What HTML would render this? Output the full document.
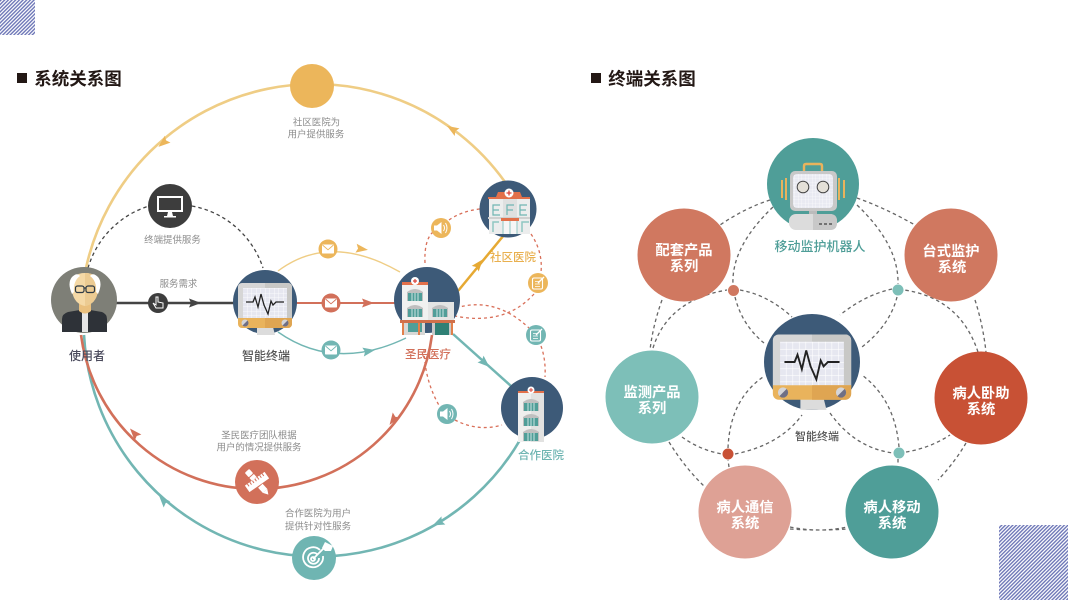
<!DOCTYPE html>
<html lang="zh"><head><meta charset="utf-8"><title>关系图</title>
<style>
html,body{margin:0;padding:0;background:#fff;width:1068px;height:600px;overflow:hidden}
svg{display:block}
text{font-family:"Liberation Sans","Noto Sans CJK SC",sans-serif;text-anchor:middle}
.s{font-size:9.450px;fill:#8c8c8c}
.n{font-size:14.300px;fill:#fff;font-weight:700}
.d{fill:none;stroke:#666;stroke-width:1.300;stroke-dasharray:3.500 3}
.r{fill:none;stroke:#d9705a;stroke-width:1.300;stroke-dasharray:3 3}
</style></head><body>
<svg width="1068" height="600" viewBox="0 0 1068 600" xmlns="http://www.w3.org/2000/svg">
<defs>
<pattern id="st" width="2.600" height="5" patternUnits="userSpaceOnUse" patternTransform="rotate(45)">
<rect width="2.600" height="5" fill="#fff"/><rect width="1.400" height="5" fill="#6f78b8"/>
</pattern>
<pattern id="gr" width="4.500" height="4.500" patternUnits="userSpaceOnUse">
<rect width="4.500" height="4.500" fill="#e6e7f0"/><path d="M0 0H4.500M0 0V4.500" stroke="#fff" stroke-width=".8"/>
</pattern>
<pattern id="gr2" width="3.500" height="3.500" patternUnits="userSpaceOnUse">
<rect width="3.500" height="3.500" fill="#e9eaf2"/><path d="M0 0H3.500M0 0V3.500" stroke="#fff" stroke-width=".6"/>
</pattern>
<path id="ah" d="M-6 -4.500L6 0 -6 4.500 -4 0Z"/>
<g id="mon">
<path d="M-8 25H8L10 33H-8Z" fill="#dcdcdc"/>
<path d="M-27 -15a4 4 0 0 1 4-4H23a4 4 0 0 1 4 4V17H-27Z" fill="#d6d6d6"/>
<path d="M0 -19H23a4 4 0 0 1 4 4V17H0Z" fill="#c8c8c6"/>
<rect x="-22" y="-14" width="44" height="31" fill="url(#gr)"/>
<path d="M-27 16H27V22a4 4 0 0 1-4 4H-23a4 4 0 0 1-4-4Z" fill="#e9b35c"/>
<path d="M0 16H27V22a4 4 0 0 1-4 4H0Z" fill="#dfa552"/>
<circle cx="-20" cy="21" r="3.500" fill="#d5d5d8"/><circle cx="20" cy="21" r="3.500" fill="#d5d5d8"/>
<path d="M-22.500 23.500A3.500 3.500 0 0 0 -17.500 18.500Z" fill="#6f6f85"/>
<path d="M17.500 23.500A3.500 3.500 0 0 0 22.500 18.500Z" fill="#6f6f85"/>
<path d="M-19 0H-12L-10 -5-7 5-4 -8-1 3 3 12 6 -1 8 3 11 0H19" fill="none" stroke="#222" stroke-width="1.300"/>
</g>
<g id="mail"><rect x="-6" y="-4.500" width="12" height="9" rx=".8" fill="#fff"/><path d="M-5.500 -4L0 .8 5.500 -4" fill="none" stroke="currentColor" stroke-width=".9"/></g>
<g id="spk"><path d="M-6 -2.500H-3L1.500 -6V6L-3 2.500H-6Z" fill="#fff"/><path d="M3.500 -3Q5.500 0 3.500 3M5.500 -5Q8.500 0 5.500 5" fill="none" stroke="#fff" stroke-width="1"/></g>
<g id="note"><rect x="-5.500" y="-5" width="10" height="11" rx="1.500" fill="none" stroke="#fff" stroke-width="1.100"/><path d="M-3 -1.500H1M-3 1H2M-3 3.500H2" stroke="#fff" stroke-width=".8"/><path d="M0 0L6 -6" stroke="#fff" stroke-width="1.300"/></g>
<g id="win"><path d="M-8 -1Q0 -7 8 -1V8H-8Z" fill="#bfbfbf"/><rect x="-7" y="0" width="14" height="8" fill="#4f9e98"/><path d="M-3 0V8M0 0V8M3 0V8" stroke="#eef5f5" stroke-width=".8"/></g>
</defs>

<rect x="0" y="0" width="35" height="35" fill="url(#st)"/>
<rect x="999" y="525" width="69" height="75" fill="url(#st)"/>

<rect x="17" y="73" width="10" height="10" fill="#231815"/>
<text x="78" y="85" style="font-size:17.500px;font-weight:700;fill:#231815">系统关系图</text>
<rect x="591" y="73" width="10" height="10" fill="#231815"/>
<text x="652" y="85" style="font-size:17.500px;font-weight:700;fill:#231815">终端关系图</text>

<!-- big arcs -->
<path d="M86 268A234 234 0 0 1 505 182" fill="none" stroke="#efcd85" stroke-width="2.600"/>
<path d="M84 335A234 234 0 0 0 520 440" fill="none" stroke="#72b6b3" stroke-width="2.600"/>
<path d="M81 335A177 177 0 0 0 432 335" fill="none" stroke="#d2705a" stroke-width="2.600"/>
<use href="#ah" transform="translate(163 143) rotate(140)" fill="#ecb65b"/>
<use href="#ah" transform="translate(452 129) rotate(212)" fill="#ecb65b"/>
<use href="#ah" transform="translate(134 433) rotate(228)" fill="#d2705a"/>
<use href="#ah" transform="translate(393 420) rotate(125)" fill="#d2705a"/>
<use href="#ah" transform="translate(163 500) rotate(228)" fill="#72b6b3"/>
<use href="#ah" transform="translate(438 523) rotate(155)" fill="#72b6b3"/>
<path d="M88 268A92 92 0 0 1 149 206M192 206A92 92 0 0 1 263 268" class="d" style="stroke:#444"/>

<!-- terminal - hospital links -->
<path d="M278 271Q330 232 400 272" fill="none" stroke="#efcd85" stroke-width="1.400"/>
<path d="M278 332Q335 372 406 338" fill="none" stroke="#72b6b3" stroke-width="1.400"/>
<path d="M296 303H396" stroke="#d2705a" stroke-width="2"/>
<use href="#ah" transform="translate(362 249) rotate(8)" fill="#ecb65b"/>
<use href="#ah" transform="translate(368 303)" fill="#d2705a"/>
<use href="#ah" transform="translate(369 351) rotate(-10)" fill="#72b6b3"/>
<path d="M116 303H234" stroke="#444" stroke-width="2.500"/>
<use href="#ah" transform="translate(195 303)" fill="#444"/>
<path d="M458 291L504 235" stroke="#e6a933" stroke-width="2.500"/>
<use href="#ah" transform="translate(479 264) rotate(-51)" fill="#e6a933"/>
<path d="M453 334L511 386" stroke="#72b6b3" stroke-width="2.500"/>
<use href="#ah" transform="translate(485 363) rotate(42)" fill="#72b6b3"/>

<!-- red dashed -->
<path d="M425 263Q424 240 433 232M449 220Q462 211 480 209" class="r"/>
<path d="M531 234Q543 252 541 272" class="r"/>
<path d="M534 294Q505 326 455 316" class="r"/>
<path d="M456 308Q495 296 529 328" class="r"/>
<path d="M541 346Q546 360 545 377" class="r"/>
<path d="M424 350Q425 382 440 407M455 420Q478 432 502 425" class="r"/>

<!-- left nodes -->
<circle cx="312" cy="86" r="22" fill="#ecb65b"/>
<circle cx="170" cy="206" r="22" fill="#3d3d3d"/>
<rect x="157" y="196" width="26" height="16" fill="#fff"/><rect x="159" y="198" width="22" height="12" fill="#3d3d3d"/><path d="M168 212H172L173 216H176V217.500H164V216H167Z" fill="#fff"/>
<circle cx="257" cy="482" r="22" fill="#d2705a"/>
<g transform="translate(257 482) rotate(-35)"><rect x="-12" y="-4" width="24" height="8" fill="#fff"/><path d="M-9 -4V-1M-6 -4V-1M-3 -4V-1M0 -4V-1M3 -4V-1M6 -4V-1M9 -4V-1" stroke="#d2705a"/></g>
<g transform="translate(257 482) rotate(48)"><rect x="-15" y="-3" width="6" height="6" rx="1" fill="#fff"/><rect x="-8" y="-3" width="4" height="6" fill="#fff"/><rect x="5" y="-3" width="7" height="6" fill="#fff"/><path d="M12 -3L17 0 12 3Z" fill="#fff"/></g>
<circle cx="314" cy="558" r="22" fill="#6fb5b2"/>
<g fill="none" stroke="#fff" stroke-width="1.800"><path d="M320 550A10 10 0 1 0 323 556"/><path d="M317 554A5.500 5.500 0 1 0 319 558"/><circle cx="313" cy="559" r="2"/><path d="M313 559L325 547"/></g>
<path d="M322 548L325 542 331 545 333 546 331 551 325 551Z" fill="#fff"/>
<circle cx="158" cy="303" r="10" fill="#3d3d3d"/>
<path d="M156 297H158V302L163 303V308H156L153 303 156 305Z" fill="none" stroke="#fff" stroke-width="1"/>

<!-- small icons -->
<circle cx="328" cy="249" r="9.500" fill="#ecb65b"/><use href="#mail" x="328" y="249" color="#ecb65b"/>
<circle cx="331" cy="303" r="9.500" fill="#d2705a"/><use href="#mail" x="331" y="303" color="#d2705a"/>
<circle cx="331" cy="350" r="9.500" fill="#72b6b3"/><use href="#mail" x="331" y="350" color="#72b6b3"/>
<circle cx="441" cy="228" r="10" fill="#ecb65b"/><use href="#spk" x="440" y="228"/>
<circle cx="538" cy="283" r="10" fill="#ecb65b"/><use href="#note" x="538" y="283"/>
<circle cx="536" cy="335" r="10" fill="#72b6b3"/><use href="#note" x="536" y="335"/>
<circle cx="447" cy="414" r="10" fill="#72b6b3"/><use href="#spk" x="446" y="414"/>

<!-- user -->
<circle cx="84" cy="300" r="33" fill="#7e7f77"/>
<path d="M62 332V319Q62 314 68 312L80 310H90L102 312Q107 314 107 319V332Z" fill="#2e3238"/>
<rect x="82" y="311" width="6" height="21" fill="#e6e6e6"/>
<path d="M79 298H91V311Q85 316 79 311Z" fill="#eac07e"/>
<path d="M72 284Q72 273 85 273 98 273 98 284V291Q96 304 85 306 74 304 72 291Z" fill="#f5d9a6"/>
<path d="M85 273Q98 273 98 284V291Q96 304 85 306Z" fill="#eccb92"/>
<path d="M72 294Q67 283 72 277 77 272 80 276 73 281 74 292ZM98 294Q103 283 98 277 93 272 90 276 97 281 96 292Z" fill="#fff"/>
<g fill="none" stroke="#2e3a45" stroke-width="1.200"><rect x="75.500" y="286" width="8.500" height="6.500" rx="2"/><rect x="86" y="286" width="8.500" height="6.500" rx="2"/><path d="M84 288H86"/></g>

<!-- terminal -->
<circle cx="265" cy="302" r="32" fill="#3d5a78"/>
<use href="#mon" x="265" y="302"/>

<!-- main hospital -->
<circle cx="427" cy="300" r="33" fill="#3d5a78"/>
<rect x="402" y="283" width="26" height="38" fill="#f0f1f0"/>
<rect x="428" y="302" width="26" height="18" fill="#e4e5e4"/>
<rect x="402" y="282" width="26" height="3" fill="#e2704a"/>
<circle cx="415" cy="281" r="4" fill="#fff"/><path d="M413 281H417M415 279V283" stroke="#d9433a" stroke-width="1.200"/>
<use href="#win" x="415" y="293"/><use href="#win" x="415" y="309"/><use href="#win" x="440" y="309"/>
<rect x="400" y="320" width="55" height="3" fill="#d0704a"/>
<rect x="403" y="323" width="22" height="12" fill="#d8d8d6"/><rect x="408" y="323" width="14" height="9" fill="#4f9e98"/>
<rect x="432" y="323" width="21" height="12" fill="#c9c9c9"/><rect x="435" y="323" width="14" height="12" fill="#2f8075"/>
<rect x="402" y="323" width="2" height="12" fill="#e2804a"/><rect x="418" y="323" width="2" height="12" fill="#e2804a"/><rect x="451" y="323" width="2" height="12" fill="#e2804a"/>

<!-- community hospital -->
<circle cx="508" cy="209" r="28.500" fill="#3d5a78"/>
<rect x="489" y="199" width="41" height="35" fill="#eceded"/>
<rect x="503" y="199" width="14" height="18" fill="#dfe0e0"/>
<path d="M488 199H530V197H522L520 192H498L496 197H488Z" fill="#e2704a"/>
<circle cx="509" cy="193" r="4.500" fill="#fff"/><path d="M506.500 193H511.500M509 190.500V195.500" stroke="#d9433a" stroke-width="1.300"/>
<g fill="none" stroke="#6fb5b2" stroke-width="1.200"><path d="M500 205H493V215H500M493 210H499M514 205H507V215M507 210H513M527 205H520V215H527M520 210H526"/></g>
<rect x="488" y="217" width="42" height="2" fill="#cfd0d0"/>
<rect x="501" y="218" width="18" height="3" fill="#e2704a"/><rect x="503" y="221" width="14" height="13" fill="#f6f6f6"/><path d="M503 221V234M510 221V234M517 221V234" stroke="#8fc7c2"/>
<path d="M493 232V222H499" fill="none" stroke="#8fc7c2" stroke-width="1.500"/><path d="M522 232V222H529" fill="none" stroke="#8fc7c2" stroke-width="1.500"/>

<!-- cooperation hospital -->
<circle cx="532" cy="408" r="31" fill="#3d5a78"/>
<rect x="518" y="392" width="26" height="50" fill="#efefee"/>
<rect x="531" y="392" width="13" height="50" fill="#e2e2e1"/>
<rect x="518" y="391" width="26" height="2" fill="#e2704a"/>
<circle cx="531" cy="390" r="3.500" fill="#fff"/><path d="M529 390H533M531 388V392" stroke="#d9433a"/>
<use href="#win" x="531" y="403"/><use href="#win" x="531" y="418"/><use href="#win" x="531" y="433"/>

<!-- left text -->
<text class="s" x="316.500" y="125.500">社区医院为</text>
<text class="s" x="316" y="137.500">用户提供服务</text>
<text class="s" x="172.500" y="243">终端提供服务</text>
<text class="s" x="178.500" y="287">服务需求</text>
<text x="87" y="360" style="font-size:12px;font-weight:500;fill:#4a4a5c">使用者</text>
<text x="266" y="360" style="font-size:12px;font-weight:500;fill:#555">智能终端</text>
<text x="428" y="358" style="font-size:11.500px;font-weight:500;fill:#d2705a">圣民医疗</text>
<text x="513" y="261" style="font-size:11.500px;font-weight:500;fill:#e9b04f">社区医院</text>
<text x="541" y="459" style="font-size:11.500px;font-weight:500;fill:#6fb5b2">合作医院</text>
<text class="s" x="259" y="438.500">圣民医疗团队根据</text>
<text class="s" x="259" y="450.500">用户的情况提供服务</text>
<text class="s" x="318" y="516.500">合作医院为用户</text>
<text class="s" x="318" y="529.500">提供针对性服务</text>

<!-- right dashed -->
<path class="d" d="M773 207Q731 247 733 285M735 297Q742 325 764 343"/>
<path class="d" d="M857 205Q899 245 898 284M897 297Q890 325 862 347"/>
<path class="d" d="M653 348Q668 300 727 290M740 290Q768 295 792 317"/>
<path class="d" d="M978 352Q960 298 904 290M892 289Q865 295 840 315"/>
<path class="d" d="M682 437Q700 450 722 454M735 454Q780 445 802 415"/>
<path class="d" d="M729 467L728 460M728 448Q730 400 763 377"/>
<path class="d" d="M830 413Q855 448 893 453M906 452Q930 448 950 435"/>
<path class="d" d="M899 447Q895 400 862 375M898 459L898 465"/>
<path class="d" d="M770 200Q745 208 720 225M857 198Q885 208 915 225"/>
<path class="d" d="M662 300Q653 325 650 350M975 300Q983 325 986 352"/>
<path class="d" d="M669 442Q685 468 705 487M966 443Q955 462 938 480"/>
<path class="d" d="M790 527Q820 533 847 527M790 529Q820 531 847 529"/>

<!-- right nodes -->
<circle cx="684" cy="255" r="46.500" fill="#d07860"/>
<circle cx="951" cy="255" r="46.500" fill="#d07860"/>
<circle cx="652" cy="397" r="46.500" fill="#7dbfb8"/>
<circle cx="981" cy="398" r="46.500" fill="#c85135"/>
<circle cx="745" cy="512" r="46.500" fill="#dea195"/>
<circle cx="892" cy="512" r="46.500" fill="#4f9e98"/>
<text class="n" x="684" y="255">配套产品</text><text class="n" x="684" y="271">系列</text>
<text class="n" x="951" y="256">台式监护</text><text class="n" x="952" y="272">系统</text>
<text class="n" x="652" y="397">监测产品</text><text class="n" x="652" y="413">系列</text>
<text class="n" x="981" y="398">病人卧助</text><text class="n" x="981" y="414">系统</text>
<text class="n" x="745" y="512">病人通信</text><text class="n" x="745" y="528">系统</text>
<text class="n" x="892" y="512">病人移动</text><text class="n" x="892" y="528">系统</text>

<circle cx="733.500" cy="290.500" r="5.500" fill="#d07860"/>
<circle cx="898" cy="290" r="5.500" fill="#7dbfb8"/>
<circle cx="728" cy="454" r="5.500" fill="#c85135"/>
<circle cx="899" cy="453" r="5.500" fill="#7dbfb8"/>

<!-- robot -->
<circle cx="813" cy="184" r="46" fill="#4f9e98"/>
<path d="M804 172V166Q804 164 806 164H820Q822 164 822 166V172" fill="none" stroke="#e9b35c" stroke-width="2.400"/>
<rect x="790" y="171" width="47" height="40" rx="5" fill="#c8c8c8"/>
<rect x="793" y="174" width="40" height="34" rx="4" fill="url(#gr2)"/>
<circle cx="803" cy="187" r="5.800" fill="#e4e0d8" stroke="#444"/>
<circle cx="823" cy="187" r="5.800" fill="#e4e0d8" stroke="#444"/>
<path d="M782 180V198M786 178V200M839 178V200M844 180V198" stroke="#e9b35c" stroke-width="2"/>
<rect x="809" y="211" width="8" height="4" fill="#bbb"/>
<rect x="789" y="214" width="48" height="16" rx="7" fill="#dcdcdc"/>
<path d="M813 214H830Q837 214 837 221V223Q837 230 830 230H813Z" fill="#c8c8c8"/>
<path d="M819 224H822M824 224H827M829 224H832" stroke="#666" stroke-width="1.800"/>

<!-- center -->
<circle cx="812" cy="362" r="48" fill="#3d5a78"/>
<use href="#mon" transform="translate(812 362) scale(1.450)"/>

<text x="820" y="251" style="font-size:13px;font-weight:500;fill:#4f9e98">移动监护机器人</text>
<text x="817" y="440" style="font-size:11px;font-weight:500;fill:#555">智能终端</text>
</svg>
</body></html>
